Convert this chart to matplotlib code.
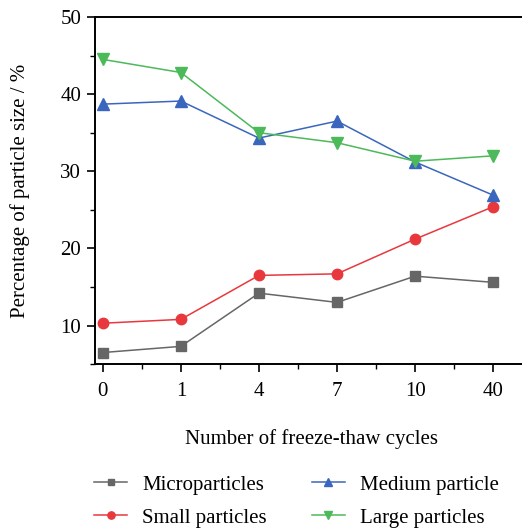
import numpy as np
import matplotlib
matplotlib.use("Agg")
import matplotlib.pyplot as plt
from matplotlib.ticker import MultipleLocator

# data
cycles = ["0", "1", "4", "7", "10", "40"]
micro = [6.5, 7.3, 14.2, 13.0, 16.4, 15.6]
small = [10.3, 10.8, 16.5, 16.7, 21.2, 25.4]
medium = [38.7, 39.1, 34.3, 36.5, 31.2, 26.9]
large = [44.5, 42.8, 35.0, 33.7, 31.3, 32.0]

plt.rcParams['font.family'] = ['Liberation Serif', 'DejaVu Serif']
plt.rcParams['font.size'] = 15

fig = plt.figure(figsize=(5.22, 5.30), dpi=100)
ax = fig.add_axes([0.182, 0.313, 0.83, 0.655])

x = np.arange(len(cycles))
ax.plot(x, micro, color="#666666", marker="s", ms=6.5, lw=1.1, label="Microparticles")
ax.plot(x, small, color="#e8383d", marker="o", ms=7.5, lw=1.1, label="Small particles")
ax.plot(x, medium, color="#3a66bd", marker="^", ms=8, lw=1.1, label="Medium particle")
ax.plot(x, large, color="#4cb95a", marker="v", ms=8, lw=1.1, label="Large particles")

ax.set_xlim(-0.1, 5.45)
ax.set_ylim(5, 50)
ax.set_xticks(x)
ax.set_xticklabels(cycles)
ax.xaxis.set_minor_locator(MultipleLocator(0.5))
ax.set_yticks([10, 20, 30, 40, 50])
ax.yaxis.set_minor_locator(MultipleLocator(5))
ax.tick_params(which="major", direction="out", length=6, width=1.2, pad=4)
ax.tick_params(which="minor", direction="out", length=3.5, width=1.0)
ax.tick_params(axis="x", pad=7)
ax.spines["right"].set_visible(False)
for s in ["left", "bottom", "top"]:
    ax.spines[s].set_linewidth(1.4)

ax.set_xlabel("Number of freeze-thaw cycles", labelpad=20)
ax.set_ylabel("Percentage of particle size / %", labelpad=22)

handles, labels = ax.get_legend_handles_labels()
fig.legend(handles, labels, ncol=2, loc="center", bbox_to_anchor=(0.568, 0.054),
           frameon=False, handlelength=1.6, columnspacing=2.15, labelspacing=0.65,
           handletextpad=0.72, markerscale=0.7)

fig.savefig("out.png", dpi=100)
